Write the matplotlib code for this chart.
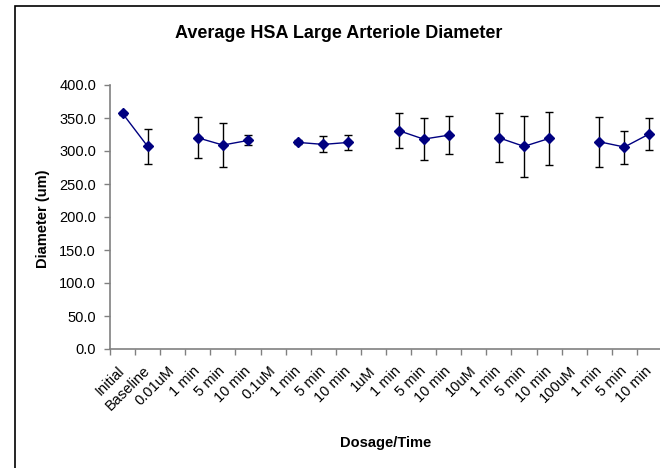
import numpy as np
import matplotlib
matplotlib.use("Agg")
import matplotlib.pyplot as plt
from matplotlib.patches import Rectangle

plt.rcParams['font.family'] = ['Liberation Sans', 'DejaVu Sans']

# categories along the time course (dose headers carry no measurement)
categories = ["Initial", "Baseline",
              "0.01uM", "1 min", "5 min", "10 min",
              "0.1uM", "1 min", "5 min", "10 min",
              "1uM", "1 min", "5 min", "10 min",
              "10uM", "1 min", "5 min", "10 min",
              "100uM", "1 min", "5 min", "10 min"]

nan = np.nan
diameter = [357.0, 307.0,
            nan, 320.0, 309.0, 316.0,
            nan, 313.0, 310.0, 313.0,
            nan, 331.0, 318.0, 324.0,
            nan, 320.0, 307.0, 319.0,
            nan, 314.0, 306.0, 326.0]
diameter_err = [2.0, 27.0,
                nan, 31.0, 33.5, 7.5,
                nan, 3.0, 12.0, 11.0,
                nan, 26.0, 32.0, 28.5,
                nan, 37.0, 46.0, 39.5,
                nan, 38.0, 25.0, 24.0]

y_ticks = np.arange(0, 401, 50)

fig = plt.figure(figsize=(6.6, 4.68), dpi=100)
ax = fig.add_axes([110 / 660, 119 / 468, 552 / 660, 264 / 468])

x = np.arange(len(categories)) + 0.5
ax.errorbar(x, diameter, yerr=diameter_err, fmt='none', ecolor='black',
            elinewidth=1.0, capsize=3.2, capthick=1.0, zorder=2)
ax.plot(x, diameter, color='#000080', lw=1.0, marker='D', markersize=5,
        markerfacecolor='#000080', markeredgecolor='#000080', zorder=3)

ax.set_xlim(0, len(categories))
ax.set_ylim(0, 400)
ax.set_yticks(y_ticks)
ax.set_yticklabels([f"{v:.1f}" for v in y_ticks], fontsize=10.5)

# tick marks on category boundaries, labels centred in each category
ax.set_xticks(np.arange(len(categories) + 1))
ax.set_xticklabels([])
ax.set_xticks(x, minor=True)
ax.set_xticklabels(categories, minor=True, rotation=45, ha='right',
                   va='center', rotation_mode='anchor', fontsize=10.5)
ax.tick_params(axis='x', which='minor', length=0, pad=14)
ax.tick_params(axis='x', which='major', length=4, color='#808080', width=1)
ax.tick_params(axis='y', length=4, color='#808080', width=1, pad=6)

for side in ['top', 'right']:
    ax.spines[side].set_visible(False)
for side in ['left', 'bottom']:
    ax.spines[side].set_color('#808080')
    ax.spines[side].set_linewidth(1.2)

fig.text(339 / 660, 1 - 33 / 468, "Average HSA Large Arteriole Diameter",
         ha='center', va='center', fontsize=13, fontweight='bold')
fig.text(43 / 660, 1 - 219 / 468, "Diameter (um)", rotation=90,
         ha='center', va='center', fontsize=10.5, fontweight='bold')
fig.text(386 / 660, 1 - 443 / 468, "Dosage/Time",
         ha='center', va='center', fontsize=10.5, fontweight='bold')

# chart frame
fig.patches.append(Rectangle((15 / 660, -0.2), 2.0, 1.2 - 6 / 468,
                             transform=fig.transFigure, fill=False,
                             edgecolor='black', lw=1.2))

fig.savefig("out.png", dpi=100)
